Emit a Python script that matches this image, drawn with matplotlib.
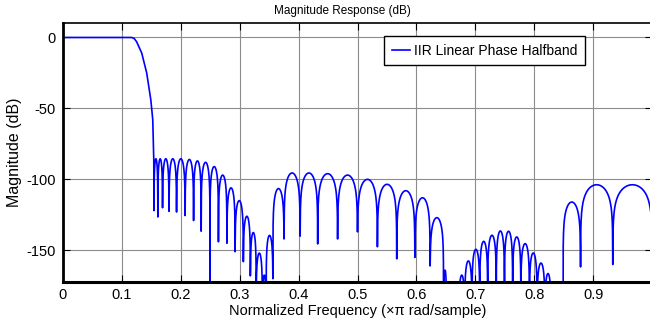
import numpy as np
import matplotlib.pyplot as plt

plt.rcParams['font.family'] = ['Liberation Sans', 'DejaVu Sans']
plt.rcParams['axes.unicode_minus'] = False

# passband and transition edge (normalized frequency, dB)
pass_freq = [0.0, 0.1167, 0.1210, 0.1250, 0.1337, 0.1421, 0.1491, 0.1524, 0.1541]
pass_mag = [0.0, 0.0, -0.8, -3.0, -11.0, -25.0, -44.0, -58.0, -86.0]

# stopband nulls: frequency and depth in dB (-250 is a true zero)
null_freq = [0.1545, 0.1610, 0.1690, 0.1800, 0.1928, 0.2073, 0.2217, 0.2346,
             0.2495, 0.2639, 0.2783, 0.2922, 0.3062, 0.3181, 0.3280, 0.3385,
             0.3449, 0.3564, 0.3753, 0.4026, 0.4324, 0.4662, 0.5000, 0.5338,
             0.5666, 0.5974, 0.6233, 0.6461, 0.6511, 0.6720, 0.6820, 0.6944,
             0.7075, 0.7210, 0.7356, 0.7495, 0.7634, 0.7773, 0.7919, 0.8049,
             0.8181, 0.8287, 0.8490, 0.8787, 0.9334, 1.0000]
null_depth = [-122, -126.5, -120, -122.5, -123, -125.5, -129, -136.5,
              -250, -144, -145, -151, -158, -168, -250, -250,
              -250, -170, -142, -140, -145.5, -142, -137, -147.5,
              -156, -155, -161, -250, -250, -250, -250, -250,
              -250, -250, -250, -250, -250, -250, -250, -250,
              -250, -250, -250, -161.7, -160, -130]
# peak level of each lobe between consecutive nulls
lobe_peak = [-85.5, -85.5, -85.5, -85.5, -85.5, -86, -87, -88,
             -91, -97, -106, -115, -126, -137.5, -152, -167.5,
             -139.5, -106.5, -95.5, -95.5, -96, -97, -100, -103.5,
             -108, -113, -127, -164, -185, -167.5, -157.5, -149.3,
             -143.7, -139.4, -136.4, -136.6, -140.6, -145.3, -151.9, -159,
             -166.4, -185, -116, -103.8, -103.8]


def lobe(f0, f1, d0, d1, peak, n=120):
    t = np.linspace(0, 1, n)
    floor = 10 ** ((d0 + (d1 - d0) * t - peak) / 10)
    mag = peak + 10 * np.log10(np.sin(np.pi * t) ** 2 + floor)
    return f0 + (f1 - f0) * t, mag


freq = list(pass_freq)
mag = list(pass_mag)
for i, pk in enumerate(lobe_peak):
    f, m = lobe(null_freq[i], null_freq[i + 1], null_depth[i], null_depth[i + 1], pk)
    freq.extend(f)
    mag.extend(m)

fig = plt.figure(figsize=(6.5, 3.23), dpi=100)
ax = fig.add_axes([63 / 650, 1 - 281.5 / 323, 589 / 650, 258.2 / 323])

ax.plot(freq, mag, color='#0000ff', lw=1.2, label='IIR Linear Phase Halfband')

ax.set_xlim(0, 1)
ax.set_ylim(-172, 10)
ax.set_xticks(np.arange(0, 1.0, 0.1))
ax.set_xticklabels(['0', '0.1', '0.2', '0.3', '0.4', '0.5', '0.6', '0.7', '0.8', '0.9'])
ax.set_yticks([-150, -100, -50, 0])
ax.grid(True, color='0.55', lw=0.8)
ax.tick_params(direction='in', top=True, right=True, length=5, labelsize=10.5, pad=5)

ax.spines['left'].set_linewidth(2)
ax.spines['bottom'].set_linewidth(2.2)
ax.spines['top'].set_linewidth(1.2)
ax.spines['right'].set_linewidth(1.2)

ax.set_title('Magnitude Response (dB)', fontsize=8.5, pad=7, x=0.474)
ax.set_xlabel('Normalized Frequency (\u00d7\u03c0 rad/sample)', fontsize=10.5, labelpad=1)
ax.set_ylabel('Magnitude (dB)', fontsize=11.5, labelpad=3)

leg = ax.legend(loc='upper right', bbox_to_anchor=(0.886, 0.951), borderaxespad=0,
                fancybox=False, fontsize=10, handlelength=1.3, handletextpad=0.3,
                borderpad=0.55)
leg.get_frame().set_edgecolor('black')
leg.get_frame().set_linewidth(1.0)
leg.get_frame().set_alpha(1)

fig.savefig('out.png', dpi=100)
